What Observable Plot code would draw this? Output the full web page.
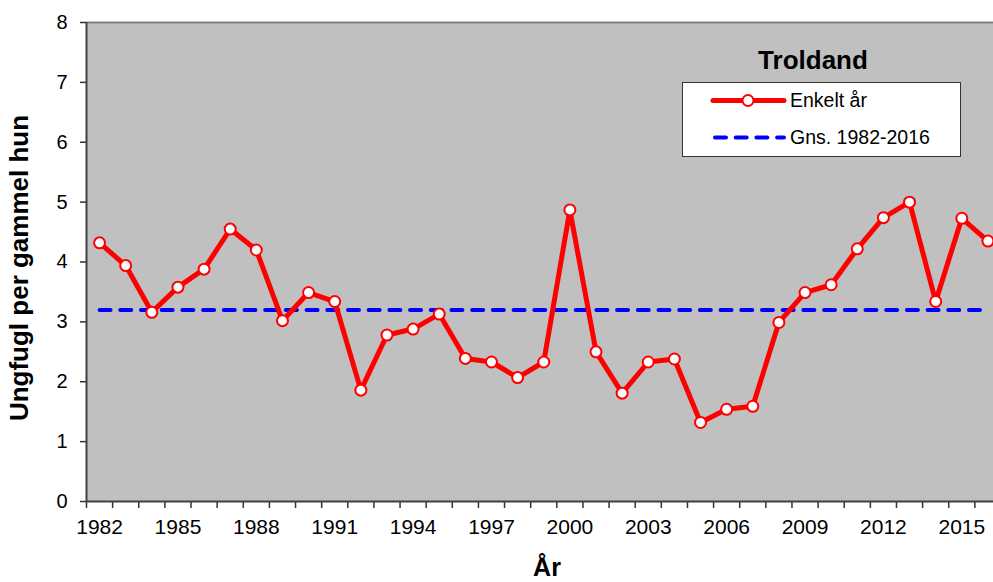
<!DOCTYPE html>
<html>
<head>
<meta charset="utf-8">
<script src="https://cdn.jsdelivr.net/npm/d3@7"></script>
<script src="https://cdn.jsdelivr.net/npm/@observablehq/plot@0.6"></script>
<style>
  html, body { margin: 0; padding: 0; background: #fff; }
  #chart { width: 993px; height: 582px; overflow: hidden; }
</style>
</head>
<body>
<div id="chart"></div>
<script>
const years = [1982, 1983, 1984, 1985, 1986, 1987, 1988, 1989, 1990, 1991,
  1992, 1993, 1994, 1995, 1996, 1997, 1998, 1999, 2000, 2001,
  2002, 2003, 2004, 2005, 2006, 2007, 2008, 2009, 2010, 2011,
  2012, 2013, 2014, 2015, 2016];
const values = [4.32, 3.94, 3.16, 3.58, 3.88, 4.55, 4.20, 3.02, 3.49, 3.34,
  1.86, 2.78, 2.88, 3.13, 2.39, 2.33, 2.07, 2.33, 4.87, 2.50,
  1.81, 2.33, 2.38, 1.32, 1.54, 1.59, 2.99, 3.49, 3.62, 4.22,
  4.74, 5.00, 3.34, 4.73, 4.35];
const meanValue = 3.20;
const tickLabelYears = [1982, 1985, 1988, 1991, 1994, 1997, 2000, 2003, 2006, 2009, 2012, 2015];
const yTicks = [0, 1, 2, 3, 4, 5, 6, 7, 8];
const seriesNames = ["Enkelt år", "Gns. 1982-2016"];
const chartTitle = "Troldand";

const data = years.map((yr, i) => ({ year: yr, value: values[i] }));
const meanData = years.map(yr => ({ year: yr, value: meanValue }));
const boundaries = years.map(yr => yr - 0.5);

const FONT = "'Liberation Sans', Arial, Helvetica, sans-serif";

const svg = Plot.plot({
  width: 993,
  height: 582,
  marginLeft: 86,
  marginRight: 0,
  marginTop: 22,
  marginBottom: 81,
  style: { fontFamily: FONT, background: "#fff", overflow: "hidden" },
  x: { domain: [years[0] - 0.5, years[years.length - 1] + 0.5], range: [86, 1000.5] },
  y: { domain: [0, 8] },
  marks: [
    Plot.frame({ fill: "#c0c0c0", stroke: null }),
    Plot.ruleY([8], { stroke: "#808080", strokeWidth: 2 }),
    Plot.axisY({ ticks: yTicks, tickSize: 6, tickPadding: 13, fontSize: 20, label: null, stroke: "#333", strokeWidth: 1.5 }),
    Plot.axisX({ ticks: boundaries, tickSize: 7, tickFormat: () => "", label: null, stroke: "#333", strokeWidth: 1.5 }),
    Plot.axisX({ ticks: tickLabelYears, tickSize: 0, tickPadding: 18, tickFormat: d => String(d), fontSize: 21, label: null }),
    Plot.ruleX([years[0] - 0.5], { stroke: "#404040", strokeWidth: 2 }),
    Plot.ruleY([0], { stroke: "#404040", strokeWidth: 2 }),
    Plot.line(meanData, { x: "year", y: "value", stroke: "#0000ff", strokeWidth: 4, strokeDasharray: "11,9.7", strokeLinecap: "round" }),
    Plot.line(data, { x: "year", y: "value", stroke: "#ff0000", strokeWidth: 5, strokeLinejoin: "round" }),
    Plot.dot(data, { x: "year", y: "value", r: 5.5, fill: "#ffffff", stroke: "#ff0000", strokeWidth: 2 })
  ]
});

const s = d3.select(svg);

function addText(x, y, str, size, opts = {}) {
  const t = s.append("text")
    .attr("x", x).attr("y", y)
    .attr("text-anchor", opts.anchor || "start")
    .attr("font-family", FONT)
    .attr("font-size", size)
    .attr("font-weight", opts.bold ? "bold" : "normal")
    .attr("fill", "#000")
    .text(str);
  if (opts.transform) t.attr("transform", opts.transform).attr("x", 0).attr("y", 0);
  return t;
}

// Axis titles
addText(0, 0, "Ungfugl per gammel hun", 26, { bold: true, anchor: "middle", transform: "translate(28,268) rotate(-90)" });
addText(547, 576, "År", 25, { bold: true, anchor: "middle" });

// Title inside plot
addText(813, 69, chartTitle, 26, { bold: true, anchor: "middle" });

// Legend
const lg = s.append("g");
lg.append("rect")
  .attr("x", 682.5).attr("y", 82.5).attr("width", 278).attr("height", 74)
  .attr("fill", "#fff").attr("stroke", "#333").attr("stroke-width", 1);
lg.append("line")
  .attr("x1", 713).attr("x2", 784).attr("y1", 100.5).attr("y2", 100.5)
  .attr("stroke", "#ff0000").attr("stroke-width", 5).attr("stroke-linecap", "round");
lg.append("circle")
  .attr("cx", 748).attr("cy", 100.5).attr("r", 5.5)
  .attr("fill", "#fff").attr("stroke", "#ff0000").attr("stroke-width", 2);
lg.append("line")
  .attr("x1", 715).attr("x2", 784).attr("y1", 137.5).attr("y2", 137.5)
  .attr("stroke", "#0000ff").attr("stroke-width", 4)
  .attr("stroke-dasharray", "11,9.7").attr("stroke-linecap", "round");
addText(790, 107, seriesNames[0], 19.5);
addText(790, 144, seriesNames[1], 19.5);

document.getElementById("chart").appendChild(svg);
</script>
</body>
</html>
